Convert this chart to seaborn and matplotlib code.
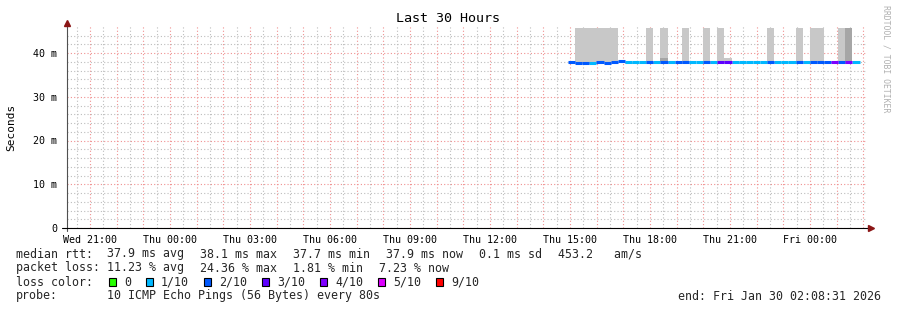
import numpy as np
import pandas as pd
import matplotlib
matplotlib.use("Agg")
import matplotlib.pyplot as plt
import seaborn as sns
from matplotlib.patches import Rectangle
from matplotlib.lines import Line2D

# ---------------- data ----------------
tick_hours = [0, 3, 6, 9, 12, 15, 18, 21, 24, 27]          # hours after Wed 21:00
tick_labels = ["Wed 21:00", "Thu 00:00", "Thu 03:00", "Thu 06:00", "Thu 09:00",
               "Thu 12:00", "Thu 15:00", "Thu 18:00", "Thu 21:00", "Fri 00:00"]
x_start, x_end = -0.858, 29.142        # Wed 20:08:31 .. Fri 02:08:31
first_sample = 17.93                   # Thu 14:56
step_hours = 16 / 60                   # RRD step (16 min)

loss_tenths = [2, 2, 2, 1, 2, 2, 2, 2, 1, 1, 1, 2, 1, 2, 1, 2, 2, 1, 1, 2, 1,
               3, 3, 1, 1, 1, 1, 1, 2, 1, 1, 1, 2, 1, 2, 2, 2, 4, 2, 4, 1]
median_ms = [37.9, 37.7, 37.7, 37.7, 37.9, 37.7, 37.9, 38.1, 37.9, 37.9, 37.9,
             37.9, 37.9, 37.9, 37.9, 37.9, 37.9, 37.9, 37.9, 37.9, 37.9,
             37.9, 37.9, 37.9, 37.9, 37.9, 37.9, 37.9, 37.9, 37.9, 37.9,
             37.9, 37.9, 37.9, 37.9, 37.9, 37.9, 37.9, 37.9, 37.9, 37.9]
# light smoke (lower / upper edge, ms); None = no smoke visible
smoke_lo = [None, 37.6, 37.6, 37.6, 37.6, 37.6, 37.6, None, 37.45, 37.45, None,
            37.6, 37.45, 37.6, None, None, 37.6, None, None, 37.6, None,
            37.6, 38.0, None, 37.45, 37.45, None, None, 37.6, None, None,
            None, 37.6, None, 37.6, 37.6, None, None, 37.6, 37.6, None]
smoke_hi = [None, 45.7, 45.7, 45.7, 45.7, 45.7, 45.7, None, 37.9, 37.9, None,
            45.7, 37.9, 45.7, None, None, 45.7, None, None, 45.7, None,
            45.7, 38.9, None, 37.9, 37.9, None, None, 45.7, None, None,
            None, 45.7, None, 45.7, 45.7, None, None, 45.7, 45.7, None]
# dense smoke (darker)
dark_idx = [13, 39]
dark_lo = [38.0, 37.6]
dark_hi = [38.9, 45.7]

loss_colors = {0: "#26ff00", 1: "#00b8ff", 2: "#0059ff", 3: "#5e00ff",
               4: "#7e00ff", 5: "#dd00ff", 9: "#ff0000"}
legend_keys = [0, 1, 2, 3, 4, 5, 9]
legend_names = ["0", "1/10", "2/10", "3/10", "4/10", "5/10", "9/10"]

rtt_items = ["37.9 ms avg", "38.1 ms max", "37.7 ms min", "37.9 ms now",
             "0.1 ms sd", "453.2   am/s"]
loss_items = ["11.23 % avg", "24.36 % max", "1.81 % min", "7.23 % now"]
probe_text = "10 ICMP Echo Pings (56 Bytes) every 80s"
end_text = "end: Fri Jan 30 02:08:31 2026"

# ---------------- figure ----------------
W, H = 897, 310
sns.set_theme(style="white")
plt.rcParams["font.family"] = ["DejaVu Sans Mono", "DejaVu Sans"]
fig = plt.figure(figsize=(W / 100, H / 100), dpi=100, facecolor="white")


def fx(px):
    return px / W


def fy(py):
    return 1 - py / H


ax_l, ax_r, ax_b, ax_t = 67, 867, 228, 26
ax = fig.add_axes([fx(ax_l), fy(ax_b), fx(ax_r - ax_l), (ax_b - ax_t) / H])
ax.set_facecolor("white")
ax.set_xlim(x_start, x_end)
ax.set_ylim(0, (ax_b - ax_t) / 4.375)

# grid
hours = np.arange(0, 30, 1.0)
ax.set_xticks(hours)
ax.set_xticks(np.arange(-0.5, 29.5, 0.5), minor=True)
ax.set_xticklabels([tick_labels[tick_hours.index(int(h))] if int(h) in tick_hours else ""
                    for h in hours])
ax.set_yticks([0, 10, 20, 30, 40])
ax.set_yticklabels(["0", "10 m", "20 m", "30 m", "40 m"])
ax.set_yticks(np.arange(0, 46, 2), minor=True)
ax.grid(which="major", color="#f09090", linestyle=(0, (1, 2)), linewidth=0.8)
ax.grid(which="minor", color="#bdbdbd", linestyle=(0, (1, 2)), linewidth=0.8)
ax.set_axisbelow(True)
ax.tick_params(which="both", length=0)
ax.tick_params(axis="x", labelsize=7.2, pad=5, colors="#000000")
ax.tick_params(axis="y", labelsize=7.2, pad=7, colors="#000000")
for s in ax.spines.values():
    s.set_visible(False)

# smoke
t_seg = first_sample + step_hours * np.arange(len(loss_tenths))
for t, lo, hi in zip(t_seg, smoke_lo, smoke_hi):
    if lo is not None:
        ax.bar(t, hi - lo, bottom=lo, width=step_hours, align="edge",
               color="#c8c8c8", linewidth=0, zorder=2)
for i, lo, hi in zip(dark_idx, dark_lo, dark_hi):
    ax.bar(t_seg[i], hi - lo, bottom=lo, width=step_hours, align="edge",
           color="#a6a6a6", linewidth=0, zorder=2)

# median line coloured by loss (seaborn)
rows = []
for i, (t, v, l) in enumerate(zip(t_seg, median_ms, loss_tenths)):
    rows.append({"t": t, "rtt": v, "loss": l, "seg": i})
    rows.append({"t": t + step_hours, "rtt": v, "loss": l, "seg": i})
df = pd.DataFrame(rows)
sns.lineplot(data=df, x="t", y="rtt", hue="loss", units="seg", estimator=None,
             palette=loss_colors, linewidth=2.2, legend=False, ax=ax, sort=False,
             zorder=3, solid_capstyle="butt")
ax.set_xlabel("")
ax.set_ylabel("")

# axes lines and arrows
fig.add_artist(Line2D([fx(67), fx(67)], [fy(231), fy(23)], color="#505050", lw=0.8))
fig.add_artist(Line2D([fx(62), fx(870)], [fy(228), fy(228)], color="#000000", lw=0.8))
fig.add_artist(Line2D([fx(67)], [fy(23)], marker="^", color="#8b1515", markersize=4,
                      linestyle="none"))
fig.add_artist(Line2D([fx(871)], [fy(228)], marker=">", color="#8b1515", markersize=4,
                      linestyle="none"))

# titles
fig.text(fx(448), fy(19), "Last 30 Hours", ha="center", va="center", fontsize=9.6,
         color="#000000")
fig.text(fx(11), fy(127), "Seconds", ha="center", va="center", rotation=90,
         fontsize=8.0, color="#000000")
fig.text(fx(886), fy(59), "RRDTOOL / TOBI OETIKER", ha="center", va="center",
         rotation=270, fontsize=5.9, color="#b0b0b0")

# legend lines (monospace, 7 px per char, 16 px between items)
fs = 8.37
CH, GAP = 7, 16


def place_items(items, y, x0=107):
    x = x0
    for it in items:
        fig.text(fx(x), fy(y), it, ha="left", va="center", fontsize=fs)
        x += len(it) * CH + GAP


fig.text(fx(16), fy(254), "median rtt:", ha="left", va="center", fontsize=fs)
place_items(rtt_items, 254)
fig.text(fx(16), fy(268), "packet loss:", ha="left", va="center", fontsize=fs)
place_items(loss_items, 268)
fig.text(fx(16), fy(282), "loss color:", ha="left", va="center", fontsize=fs)
box_x = [109, 146, 204, 262, 320, 378, 436]
for bx, k, name in zip(box_x, legend_keys, legend_names):
    fig.add_artist(Rectangle((fx(bx), fy(286)), 7 / W, 8 / H, transform=fig.transFigure,
                             facecolor=loss_colors[k], edgecolor="#000000", lw=0.8))
    fig.text(fx(bx + 15), fy(282), name, ha="left", va="center", fontsize=fs)
fig.text(fx(16), fy(296), "probe:", ha="left", va="center", fontsize=fs)
fig.text(fx(107), fy(296), probe_text, ha="left", va="center", fontsize=fs)
fig.text(fx(881), fy(296), end_text, ha="right", va="center", fontsize=fs)

fig.savefig("out.png", dpi=100, facecolor="white")
